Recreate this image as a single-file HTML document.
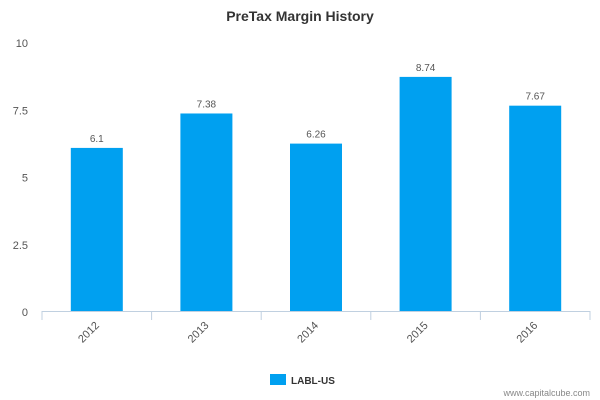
<!DOCTYPE html>
<html><head><meta charset="utf-8"><style>
body{margin:0;background:#fff;}
svg{display:block;font-family:"Liberation Sans",sans-serif;}
</style></head><body>
<svg id="chart" width="600" height="400">
<text x="300" y="21" text-anchor="middle" font-size="14" font-weight="bold" fill="#333">PreTax Margin History</text>
<g id="yaxis"></g><g id="bars"></g><g id="xaxis"></g>
<g>
<rect x="270" y="374" width="16" height="11" fill="#00a0f0"/>
<text x="291" y="384" font-size="10" font-weight="bold" fill="#333">LABL-US</text>
</g>
<text x="590" y="396" text-anchor="end" font-size="9" fill="#888">www.capitalcube.com</text>
</svg>
<script>
const categories=["2012","2013","2014","2015","2016"];
const values=[6.1,7.38,6.26,8.74,7.67];
const valueLabels=["6.1","7.38","6.26","8.74","7.67"];
const yTicks=[0,2.5,5,7.5,10];
const yTickLabels=["0","2.5","5","7.5","10"];
const NS="http://www.w3.org/2000/svg";
const x0=42,x1=590,yTop=43,yBot=312;
const y=v=>yBot-(v/10)*(yBot-yTop);
const bw=(x1-x0)/categories.length;
const xc=i=>x0+bw*(i+0.5);
function mk(t,a,p){const e=document.createElementNS(NS,t);for(const k in a)e.setAttribute(k,a[k]);p.appendChild(e);return e;}
const ya=document.getElementById('yaxis'),ba=document.getElementById('bars'),xa=document.getElementById('xaxis');
yTicks.forEach((t,i)=>{
 const tx=mk('text',{x:28,y:y(t)+4,'text-anchor':'end','font-size':11,fill:'#555'},ya);
 
 
 tx.textContent=yTickLabels[i];
});
values.forEach((v,i)=>{
 const r=mk('rect',{x:xc(i)-26,y:y(v),width:52,height:yBot-y(v),fill:'#00a0f0'},ba);
 
 
 const l=mk('text',{x:xc(i),y:y(v)-6,'text-anchor':'middle','font-size':10,fill:'#555'},ba);
 
 
 l.textContent=valueLabels[i];
});
const al=mk('line',{x1:x0,x2:x1,y1:311.5,y2:311.5,stroke:'#c0d0e0'},xa);


for(let i=0;i<=categories.length;i++){
 const tk=mk('line',{x1:x0+bw*i,x2:x0+bw*i,y1:311,y2:320,stroke:'#c0d0e0'},xa);
 
 
}
categories.forEach((c,i)=>{
 const t=mk('text',{x:xc(i)+3,y:326,'text-anchor':'end','font-size':11,fill:'#555',transform:`rotate(-45 ${xc(i)+3} 326)`},xa);
 
 
 t.textContent=c;
});
</script>
</body></html>
